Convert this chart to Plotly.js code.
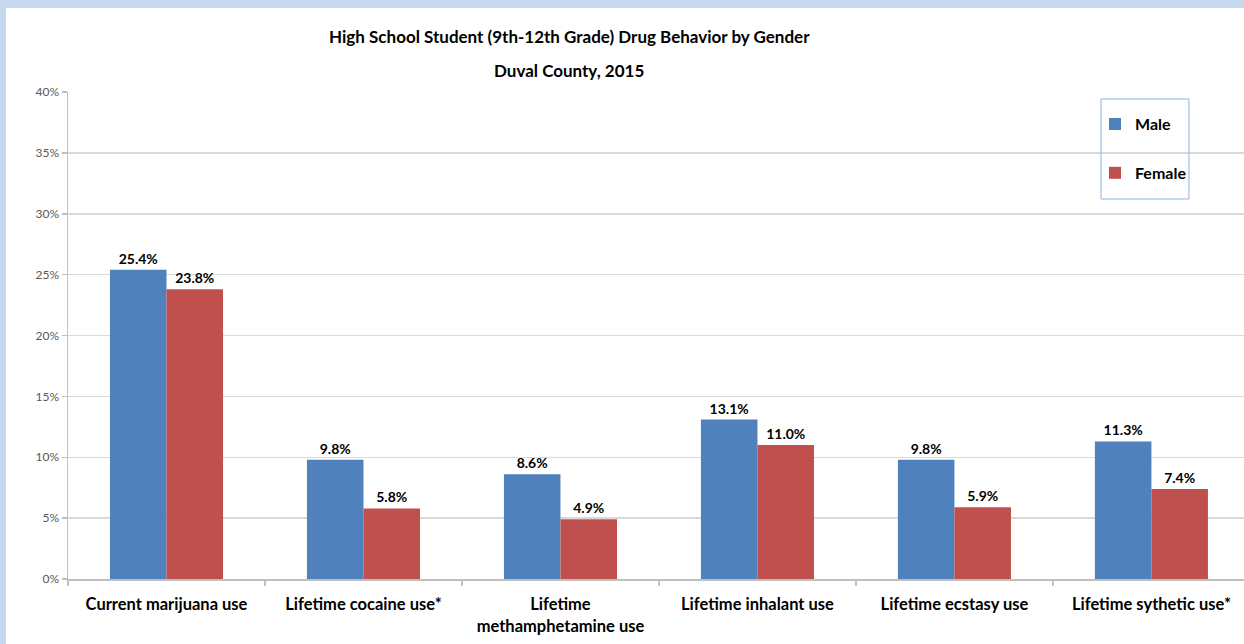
<!DOCTYPE html>
<html>
<head>
<meta charset="utf-8">
<script src="https://cdn.plot.ly/plotly-3.0.1.min.js"></script>
<style>
  html, body { margin: 0; padding: 0; background: #c6d9ee; }
  #frame { position: absolute; left: 6px; top: 8px; width: 1238px; height: 636px; background: #ffffff; }
  #chart { width: 1238px; height: 636px; }
</style>
</head>
<body>
<div id="frame"><div id="chart"></div></div>
<script>
// Drug behavior measures, Duval County high school students, 2015
const categories = [
  "Current marijuana use",
  "Lifetime cocaine use*",
  "Lifetime<br>methamphetamine use",
  "Lifetime inhalant use",
  "Lifetime ecstasy use",
  "Lifetime sythetic use*"
];
const maleValues   = [0.254, 0.098, 0.086, 0.131, 0.098, 0.113];
const femaleValues = [0.238, 0.058, 0.049, 0.110, 0.059, 0.074];
const yTickValues  = [0, 0.05, 0.10, 0.15, 0.20, 0.25, 0.30, 0.35, 0.40];

const FONT = 'Lato, "Open Sans", sans-serif';
const labelFont = { family: FONT, size: 14, color: '#000000', weight: 'bold' };

const makeBar = (name, values, color, group) => ({
  type: 'bar',
  name: name,
  x: categories,
  y: values,
  legendgroup: group,
  marker: { color: color },
  texttemplate: '%{y:.1%}',
  textposition: 'outside',
  textfont: labelFont,
  cliponaxis: false,
  hoverinfo: 'skip'
});

const data = [
  makeBar('Male', maleValues, '#4f81bd', 'm'),
  makeBar('Female', femaleValues, '#c0504d', 'f')
];

const layout = {
  width: 1238,
  height: 636,
  paper_bgcolor: '#ffffff',
  plot_bgcolor: '#ffffff',
  margin: { l: 62, r: 0, t: 84, b: 65 },
  font: { family: FONT, color: '#000000' },
  title: {
    text: 'High School Student (9th-12th Grade) Drug Behavior by Gender',
    font: { family: FONT, size: 17, color: '#000000', weight: 'bold' },
    x: 0.455,
    xanchor: 'center',
    y: 0.955,
    yanchor: 'middle'
  },
  annotations: [{
    text: 'Duval County, 2015',
    xref: 'paper', yref: 'paper',
    x: 0.4264, y: 1.045,
    xanchor: 'center', yanchor: 'middle',
    showarrow: false,
    font: { family: FONT, size: 17, color: '#000000', weight: 'bold' }
  }],
  shapes: [{
    // legend frame
    type: 'rect',
    xref: 'paper', yref: 'paper',
    x0: 0.8784, x1: 0.9532, y0: 0.7803, y1: 0.9856,
    line: { color: '#95b3d7', width: 1 },
    fillcolor: 'rgba(255,255,255,0)',
    layer: 'above'
  }],
  barmode: 'group',
  bargap: 0.426,
  bargroupgap: 0,
  xaxis: {
    type: 'category',
    range: [-0.5, 5.47],
    showgrid: false,
    showline: true,
    linecolor: '#bfbfbf',
    linewidth: 1.5,
    ticks: 'outside',
    tickson: 'boundaries',
    ticklen: 5,
    tickcolor: '#bfbfbf',
    tickwidth: 1.5,
    tickfont: { family: FONT, size: 16.5, color: '#000000', weight: 'bold' },
    ticklabelstandoff: 10,
    fixedrange: true
  },
  yaxis: {
    range: [0, 0.4],
    tickvals: yTickValues,
    tickformat: '.0%',
    showgrid: true,
    gridcolor: '#d9d9d9',
    gridwidth: 1.5,
    showline: true,
    linecolor: '#bfbfbf',
    linewidth: 1.5,
    ticks: 'outside',
    ticklen: 5,
    tickcolor: '#bfbfbf',
    tickwidth: 1.5,
    tickfont: { family: FONT, size: 12, color: '#595959' },
    zeroline: false,
    fixedrange: true
  },
  legend: {
    x: 0.8733,
    y: 0.969,
    xanchor: 'left',
    yanchor: 'top',
    bgcolor: 'rgba(255,255,255,0)',
    borderwidth: 0,
    font: { family: FONT, size: 16, color: '#000000', weight: 'bold' },
    tracegroupgap: 25,
    itemwidth: 30
  },
  showlegend: true
};

Plotly.newPlot('chart', data, layout, { displayModeBar: false, staticPlot: true });
</script>
</body>
</html>
